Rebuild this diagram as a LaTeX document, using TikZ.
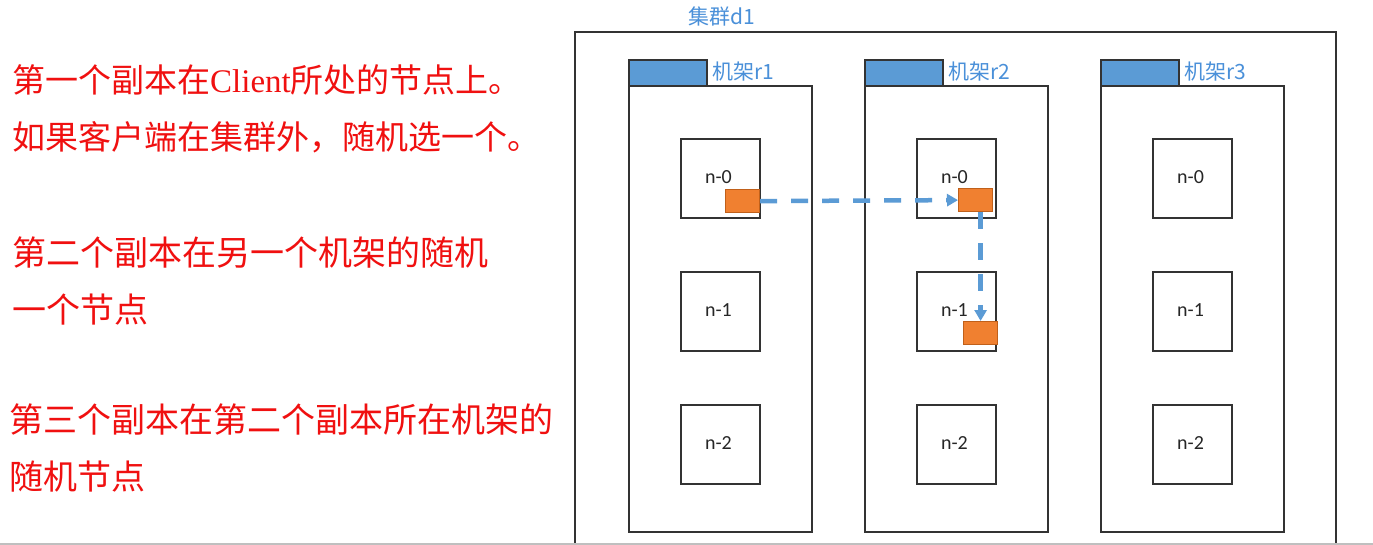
\documentclass[tikz,border=0pt]{standalone}
\usepackage{fontspec}
\setmainfont{Liberation Serif}
\newfontfamily\cjk{Noto Sans CJK SC}
\newfontfamily\lab{Carlito}
\usetikzlibrary{arrows.meta}
\definecolor{rackblue}{HTML}{5B9BD5}
\definecolor{labblue}{HTML}{4A90D9}
\definecolor{repor}{HTML}{F08030}
\definecolor{reporb}{HTML}{C0601A}
\definecolor{boxline}{HTML}{333333}
\definecolor{txtred}{HTML}{F01010}
\tikzset{
  boxln/.style={draw=boxline, line width=1.7pt},
  rackbody/.style={boxln, minimum width=183pt, minimum height=446pt, inner sep=0pt, anchor=north west},
  rackhead/.style={draw=boxline, line width=1.7pt, fill=rackblue, minimum width=78pt, minimum height=26pt, inner sep=0pt, anchor=north west},
  racklab/.style={font=\cjk\fontsize{21}{24}\selectfont, text=labblue, anchor=west, inner sep=0pt},
  hostbox/.style={boxln, minimum width=79pt, minimum height=79pt, inner sep=0pt, anchor=north west},
  hostlab/.style={font=\lab\fontsize{20}{24}\selectfont, text=black!85, inner sep=0pt},
  replica/.style={draw=reporb, line width=1.2pt, fill=repor, minimum width=34pt, minimum height=23pt, inner sep=0pt, anchor=north west},
  flow/.style={draw=rackblue, line width=4.5pt, dash pattern=on 17pt off 14pt, -{Triangle[length=11pt,width=12pt]}},
  note/.style={font=\cjk\fontsize{34}{40}\selectfont, text=txtred, anchor=west, inner sep=0pt},
  notesm/.style={note, font=\cjk\fontsize{33}{40}\selectfont},
}
\begin{document}
\begin{tikzpicture}[x=1pt,y=-1pt]
\useasboundingbox (0,0) rectangle (1373,545);
\fill[white] (0,0) rectangle (1373,545);
% cluster
\draw[boxln] (575,560) -- (575,32) -- (1336,32) -- (1336,560);
\node[font=\cjk\fontsize{21}{24}\selectfont, text=labblue, anchor=west, inner sep=0pt] (cl) at (688,17) {集群d1};
% racks
\foreach \i/\x in {1/628,2/864,3/1100}{
  \node[rackbody] (rack\i) at (\x,85) {};
  \node[rackhead] (head\i) at (\x,59) {};
  \node[racklab] (rl\i) at (\x+84,72) {机架r\i};
}
% hosts
\foreach \i/\x in {1/680,2/916,3/1152}{
  \foreach \j/\y in {0/138,1/271,2/404}{
    \node[hostbox] (h\i\j) at (\x,\y) {};
    \node[hostlab] (hl\i\j) at (\x+38.5,\y+39) {n-\j};
  }
}
% replicas
\node[replica] (rA) at (725,189) {};
\node[replica] (rB) at (958,188) {};
\node[replica] (rC) at (963,321) {};
\draw[flow] (rA.east) -- (rB.west);
\draw[flow] (rB.south) ++(5,0) coordinate (bs) -- (bs |- rC.north);
% notes
\node[notesm] (t1) at (12,80) {第一个副本在{\rmfamily Client}所处的节点上。};
\node[notesm] (t2) at (12,137) {如果客户端在集群外，随机选一个。};
\node[note] (t3) at (12,253) {第二个副本在另一个机架的随机};
\node[note] (t4) at (12,310) {一个节点};
\node[note] (t5) at (9,420) {第三个副本在第二个副本所在机架的};
\node[note] (t6) at (9,477) {随机节点};
\draw[gray!50, line width=1.5pt] (0,544) -- (1373,544);
\end{tikzpicture}
\end{document}
